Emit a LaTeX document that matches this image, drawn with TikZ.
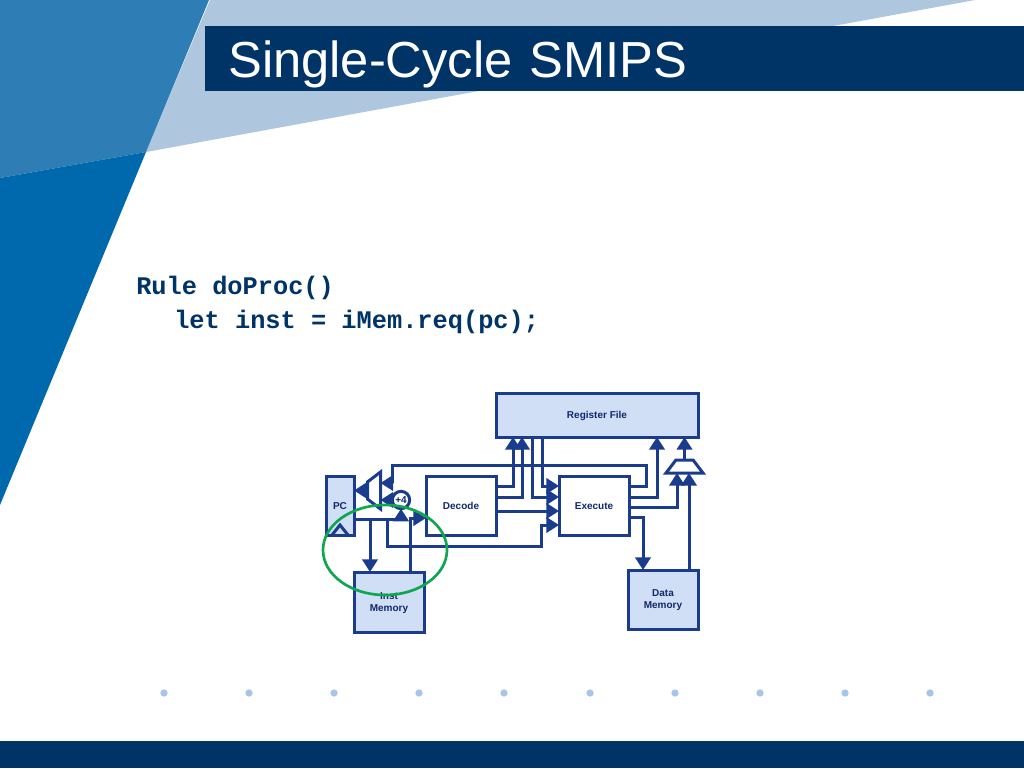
\documentclass[tikz,border=0pt]{standalone}
\usepackage{fontspec}
\setmainfont{Liberation Sans}
\setmonofont{Liberation Mono}
\usetikzlibrary{arrows.meta,positioning,calc,shapes.geometric}
\definecolor{navy}{HTML}{003366}
\definecolor{linecol}{HTML}{1B3C8C}
\definecolor{boxfill}{HTML}{D0DFF5}
\definecolor{labelcol}{HTML}{10296B}
\definecolor{focusgreen}{HTML}{0FA650}
\definecolor{paleblue}{HTML}{AEC6DE}
\definecolor{midblue}{HTML}{2E7DB5}
\definecolor{deepblue}{HTML}{0069AD}
\definecolor{dotcol}{HTML}{A9C4E6}
\tikzset{
  unit/.style   ={draw=linecol,line width=2.25pt,fill=boxfill,align=center,outer sep=0pt,
                  inner sep=0pt,text=labelcol,text depth=0pt,
                  font=\fontsize{7.5}{9}\selectfont\bfseries},
  one/.style    ={unit,text height=5.4pt},
  wbox/.style   ={one,fill=white,minimum width=52.5pt,minimum height=44.25pt},
  mux/.style    ={draw=linecol,line width=2.25pt,fill=white,trapezium,trapezium angle=60,
                  trapezium stretches=true,inner sep=0.5pt,outer sep=0pt,
                  minimum width=27.75pt,minimum height=9.75pt},
  ar/.style     ={draw=linecol,line width=2.25pt,-{Triangle[length=9.5pt,width=11.5pt]}},
  wire/.style   ={draw=linecol,line width=2.25pt},
  code/.style   ={anchor=west,inner sep=0pt,text=navy,font=\fontsize{19}{20}\selectfont\ttfamily\bfseries},
  dot/.style    ={circle,fill=dotcol,minimum size=5.5pt,inner sep=0pt},
}
\begin{document}
\begin{tikzpicture}[x=0.75pt,y=-0.75pt]
\useasboundingbox (0,0) rectangle (1024,768);
% slide background
\fill[white] (0,0) rectangle (1024,768);
\fill[paleblue] (210,0) -- (975,0) -- (146,152) -- cycle;
\fill[midblue] (0,0) -- (209,0) -- (146,152) -- (0,178) -- cycle;
\fill[deepblue] (0,178) -- (146,152) -- (0,505) -- cycle;
\node[anchor=north west,fill=navy,text=white,minimum width=614.25pt,minimum height=48.75pt,
      inner xsep=17.25pt,inner ysep=0pt,text width=579.75pt,align=left,
      text height=27.4pt,text depth=0pt,
      font=\fontsize{38}{40}\selectfont] (TITLE) at (205,26) {Single-Cycle SMIPS};
\fill[navy] (0,741) rectangle (1024,768);
\foreach \x in {164,249,334,419,504,590,675,760,845,930}
  \node[dot] at (\x,693) {};

\node[code] (L1) at (136,288) {Rule doProc()};
\node[code] (L2) at (174,322) {let inst = iMem.req(pc);};

% blocks
\node[one,minimum width=21pt,minimum height=44.25pt] (PC) at (340,505.5) {PC};
\node[wbox,right=54pt of PC] (DEC) {Decode};
\node[wbox,right=47.25pt of DEC] (EX) {Execute};
\node[one,minimum width=151.5pt,minimum height=33pt,above right=29.25pt and 0pt of DEC] (RF) {Register File};
\node[unit,minimum width=52.5pt,minimum height=45pt,below right=27.75pt and 0pt of PC] (IM) {Inst\\Memory};
\node[unit,minimum width=52.5pt,minimum height=44.25pt,below right=26.25pt and -0.75pt of EX] (DM) {Data\\Memory};
\node[mux,rotate=90] (MUXL) at (374,490.5) {};
\node[mux] (MUXR) at (684.5,466.5) {};
\node[one,circle,fill=white,minimum size=13pt] (P4) at (401,500) {+4};
\draw[wire] ($(PC.south)+(-8,0)$) -- ($(PC.south)+(0,-10)$) -- ($(PC.south)+(8,0)$);

\coordinate (PCO) at ($(PC.north east)+(0,43)$);
\coordinate (RET) at ($(DEC.north west)+(-34,-11)$);
\coordinate (BUS) at ($(DEC.south west)+(-39,10)$);
\coordinate (IMIN) at ($(IM.north west)+(16,0)$);

% connectors
\draw[ar] (MUXL.north) -- (MUXL.north -| PC.east);
\draw[ar] (P4.west) -- (P4.west -| MUXL.south);
\draw[ar] ($(EX.north east)+(0,10)$) -- ++(17,0) |- (RET) |- ($(MUXL.south)+(0,-7.5)$);
\draw[ar] (PCO) -| (P4.south);
\draw[ar] (IMIN |- PCO) -- (IMIN);
\draw[ar] (BUS |- PCO) |- ($(EX.south west)+(-18,11)$) |- ($(EX.south west)+(0,-10)$);
\draw[ar] ($(IM.north west)+(56,0)$) |- ($(DEC.north west)+(0,42)$);
\draw[ar] ($(DEC.north east)+(0,10)$) -| ($(RF.south west)+(17,0)$);
\draw[ar] ($(DEC.north east)+(0,21)$) -| ($(RF.south west)+(26,0)$);
\draw[ar] ($(DEC.north east)+(0,35)$) -- ($(EX.north west)+(0,35)$);
\draw[ar] ($(RF.south west)+(36,0)$) |- ($(EX.north west)+(0,21)$);
\draw[ar] ($(RF.south west)+(46,0)$) |- ($(EX.north west)+(0,10)$);
\draw[ar] ($(EX.north east)+(0,21)$) -| ($(RF.south east)+(-41,0)$);
\draw[ar] ($(EX.north east)+(0,31)$) -| ($(MUXR.south)+(-7.5,0)$);
\draw[ar] ($(DM.north west)+(61,0)$) -- ($(MUXR.south)+(4.5,0)$);
\draw[ar] (MUXR.north) -- (MUXR.north |- RF.south);
\draw[ar] ($(EX.north east)+(0,41)$) -| ($(DM.north west)+(15,0)$);

\node[draw=focusgreen,line width=2pt,ellipse,minimum width=93pt,minimum height=67.5pt,
      inner sep=0pt] (FOCUS) at (385,550) {};
\end{tikzpicture}
\end{document}
